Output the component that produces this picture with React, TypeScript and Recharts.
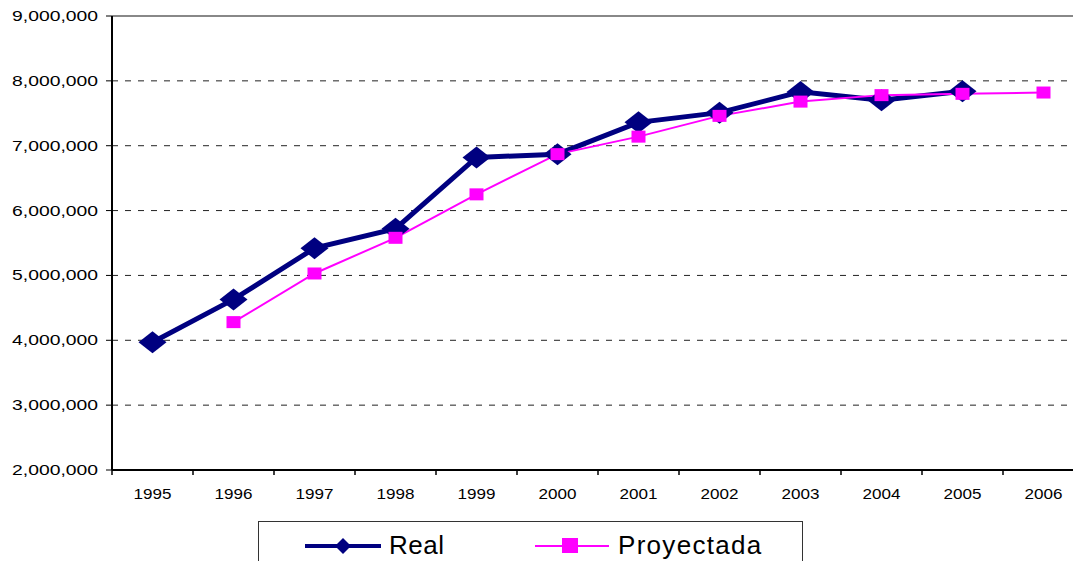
import React from 'react';
import { LineChart, Line, XAxis, YAxis, CartesianGrid, ReferenceLine } from 'recharts';

const years = ['1995', '1996', '1997', '1998', '1999', '2000', '2001', '2002', '2003', '2004', '2005', '2006'];
const realValues = [3970000, 4630000, 5420000, 5720000, 6820000, 6870000, 7360000, 7510000, 7830000, 7700000, 7840000, null];
const proyectadaValues = [null, 4280000, 5030000, 5580000, 6250000, 6870000, 7140000, 7460000, 7680000, 7780000, 7800000, 7820000];
const yTicks = [2000000, 3000000, 4000000, 5000000, 6000000, 7000000, 8000000, 9000000];

const data = years.map((year, i) => ({ year, real: realValues[i], proyectada: proyectadaValues[i] }));

const FONT = '"Liberation Sans", Arial, sans-serif';
const NAVY = '#000080';
const MAGENTA = '#FF00FF';

const W = 1090;
const H = 561;
const MARGIN = { top: 16, right: 6, bottom: 61, left: 0 };
const Y_W = 112;
const X_H = 30;
const PLOT_BOTTOM = H - MARGIN.bottom - X_H;
const BAND = (W - MARGIN.left - MARGIN.right - Y_W) / years.length;

const fmt = (v: number) => v.toLocaleString('en-US');

const YTick = (props: any) => {
    const { x, y, payload } = props;
    return (
        <text
            transform={`translate(${x},${y + 5}) scale(1.38,1)`}
            textAnchor="end"
            fontFamily={FONT}
            fontSize={14}
            fill="#000"
        >
            {fmt(payload.value)}
        </text>
    );
};

const XTick = (props: any) => {
    const { x, payload, index } = props;
    const left = x - BAND / 2;
    return (
        <g>
            <line x1={left} y1={PLOT_BOTTOM} x2={left} y2={PLOT_BOTTOM + 5} stroke="#000" strokeWidth={1.5} />
            {index === years.length - 1 && (
                <line x1={x + BAND / 2} y1={PLOT_BOTTOM} x2={x + BAND / 2} y2={PLOT_BOTTOM + 5} stroke="#000" strokeWidth={1.5} />
            )}
            <text
                transform={`translate(${x},${PLOT_BOTTOM + 29}) scale(1.22,1)`}
                textAnchor="middle"
                fontFamily={FONT}
                fontSize={14}
                fill="#000"
            >
                {payload.value}
            </text>
        </g>
    );
};

const Diamond = (props: any) => {
    const { cx, cy, index } = props;
    if (cx == null || cy == null || props.value == null) return <g key={`d-${index}`} />;
    return (
        <polygon
            key={`d-${index}`}
            points={`${cx},${cy - 11} ${cx + 14},${cy} ${cx},${cy + 11} ${cx - 14},${cy}`}
            fill={NAVY}
        />
    );
};

const Square = (props: any) => {
    const { cx, cy, index } = props;
    if (cx == null || cy == null || props.value == null) return <g key={`s-${index}`} />;
    return <rect key={`s-${index}`} x={cx - 7} y={cy - 6} width={14} height={12} fill={MAGENTA} />;
};

const LegendBox = () => (
    <div
        style={{
            position: 'absolute',
            left: 258,
            top: 521,
            width: 545,
            height: 60,
            border: '1px solid #333',
            boxSizing: 'border-box',
            background: '#fff',
        }}
    >
        <svg width={545} height={60} style={{ position: 'absolute', left: 0, top: 0 }}>
            <line x1={46} y1={24} x2={122} y2={24} stroke={NAVY} strokeWidth={4} />
            <polygon points="84,16 92,24 84,32 76,24" fill={NAVY} />
            <text x={130} y={32} fontFamily={FONT} fontSize={26} letterSpacing={0.5} fill="#000">Real</text>
            <line x1={276} y1={24} x2={350} y2={24} stroke={MAGENTA} strokeWidth={2} />
            <rect x={303} y={16} width={16} height={15} fill={MAGENTA} />
            <text x={359} y={32} fontFamily={FONT} fontSize={26} letterSpacing={1.3} fill="#000">Proyectada</text>
        </svg>
    </div>
);

export default function App() {
    return (
        <div style={{ position: 'absolute', left: 0, top: 0, width: 1073, height: 561, overflow: 'hidden', background: '#fff' }}>
            <LineChart width={W} height={H} data={data} margin={MARGIN}>
                <CartesianGrid horizontal vertical={false} stroke="#222" strokeDasharray="6 7" />
                <ReferenceLine y={9000000} stroke="#888" strokeWidth={2} />
                <XAxis
                    dataKey="year"
                    height={X_H}
                    padding={{ left: BAND / 2, right: BAND / 2 }}
                    axisLine={{ stroke: '#000', strokeWidth: 2 }}
                    tickLine={false}
                    tick={<XTick />}
                    interval={0}
                />
                <YAxis
                    width={Y_W}
                    domain={[2000000, 9000000]}
                    ticks={yTicks}
                    axisLine={{ stroke: '#000', strokeWidth: 2 }}
                    tickLine={{ stroke: '#000' }}
                    tickSize={6}
                    tickMargin={8}
                    tick={<YTick />}
                    interval={0}
                />
                <Line
                    dataKey="real"
                    stroke={NAVY}
                    strokeWidth={5}
                    dot={Diamond}
                    activeDot={false}
                    isAnimationActive={false}
                    connectNulls={false}
                />
                <Line
                    dataKey="proyectada"
                    stroke={MAGENTA}
                    strokeWidth={2}
                    dot={Square}
                    activeDot={false}
                    isAnimationActive={false}
                    connectNulls={false}
                />
            </LineChart>
            <LegendBox />
        </div>
    );
}
